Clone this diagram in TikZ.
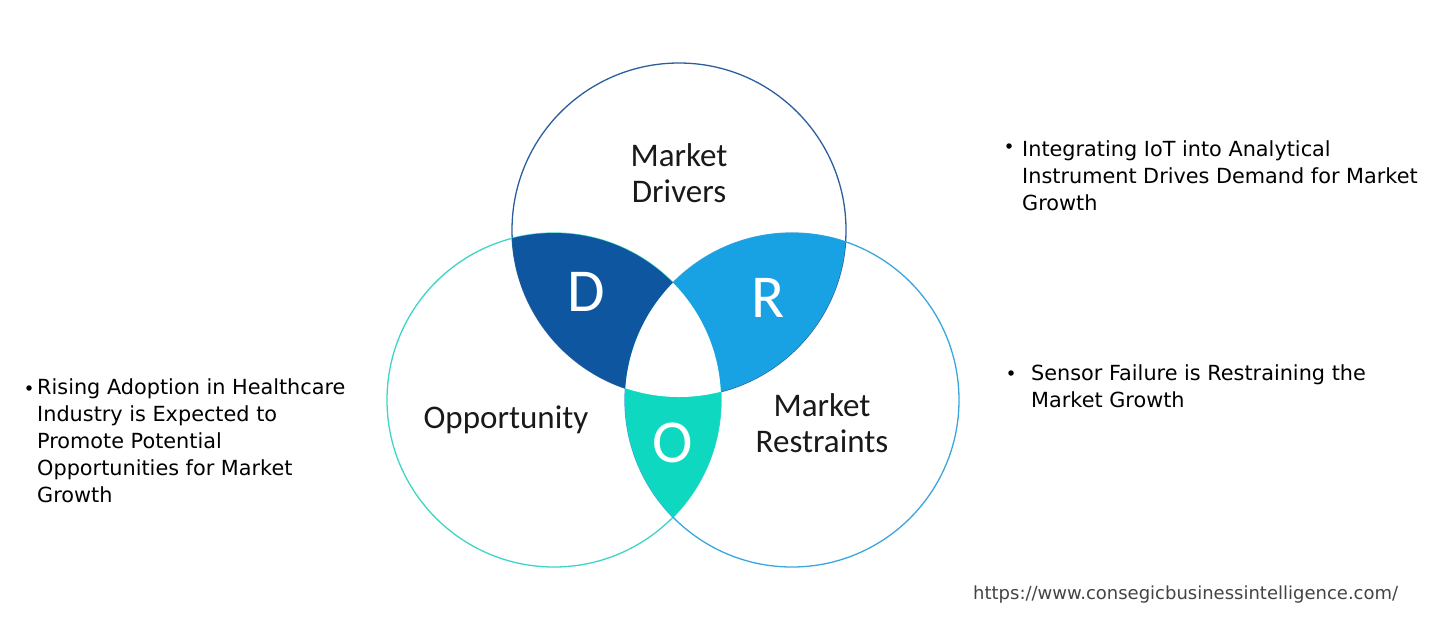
\documentclass[tikz,border=0pt]{standalone}
\usepackage{fontspec}
\setmainfont{DejaVu Sans}
\newfontfamily\calib{Carlito}
\definecolor{dcol}{HTML}{0E569F}
\definecolor{rcol}{HTML}{18A1E3}
\definecolor{ocol}{HTML}{0FD8C1}
\definecolor{topline}{HTML}{2B5F9C}
\definecolor{leftline}{HTML}{3DD5C6}
\definecolor{rightline}{HTML}{3AA6DE}
\definecolor{urlcol}{HTML}{444444}
\begin{document}
\begin{tikzpicture}[x=1pt,y=-1pt,
  lbl/.style={font=\calib\fontsize{33}{36}\selectfont, align=center, text=black!90, inner sep=0pt},
  big/.style={font=\calib\fontsize{61}{61}\selectfont, text=white, inner sep=0pt},
  bul/.style={font=\fontsize{20.8}{27}\selectfont, align=left, anchor=north west, inner sep=0pt, text=black},
  dot/.style={circle, fill=black, inner sep=0pt, minimum size=5.5pt}]
\useasboundingbox (0,0) rectangle (1453,633);
\coordinate (ct) at (679,230);
\coordinate (cl) at (554,400);
\coordinate (cr) at (792,400);
\def\rr{167}
% outlines
\draw[topline, line width=1.3pt] (ct) circle (\rr);
\draw[leftline, line width=1.3pt] (cl) circle (\rr);
\draw[rightline, line width=1.3pt] (cr) circle (\rr);
% fills
\begin{scope}
  \clip (ct) circle (\rr);
  \fill[dcol] (cl) circle (\rr);
\end{scope}
\begin{scope}
  \clip (ct) circle (\rr);
  \fill[rcol] (cr) circle (\rr);
\end{scope}
\begin{scope}
  \clip (cl) circle (\rr);
  \fill[ocol] (cr) circle (\rr);
\end{scope}
\begin{scope}
  \clip (cl) circle (\rr);
  \clip (cr) circle (\rr);
  \fill[white] (ct) circle (\rr);
\end{scope}
% labels
\node[lbl] (drv) at (679,173) {Market\\Drivers};
\node[lbl] (opp) at (506,420) {Opportunity};
\node[lbl] (res) at (822,423) {Market\\Restraints};
\node[big] (D) at (586,292) {D};
\node[big] (R) at (768,298) {R};
\node[big] (O) at (673,443) {O};
% bullets
\node[dot] (b1) at (1009,146) {};
\node[bul] (t1) at (1022,140) {Integrating IoT into Analytical\\Instrument Drives Demand for Market\\Growth};
\node[dot] (b2) at (1011,373) {};
\node[bul] (t2) at (1031,364) {Sensor Failure is Restraining the\\Market Growth};
\node[dot] (b3) at (29,388) {};
\node[bul] (t3) at (37,378) {Rising Adoption in Healthcare\\Industry is Expected to\\Promote Potential\\Opportunities for Market\\Growth};
\node[font=\fontsize{18}{22}\selectfont, text=urlcol, anchor=west, inner sep=0pt] (url) at (973,595) {https://www.consegicbusinessintelligence.com/};
\end{tikzpicture}
\end{document}
